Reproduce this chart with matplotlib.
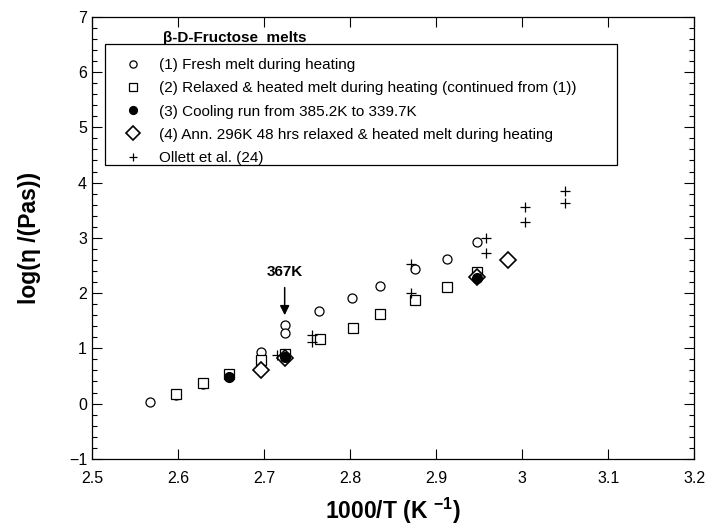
import matplotlib
matplotlib.use('Agg')
import matplotlib.pyplot as plt
from matplotlib.patches import Rectangle
from matplotlib.ticker import MultipleLocator

plt.rcParams['font.family'] = ['Liberation Sans', 'DejaVu Sans']
plt.rcParams['mathtext.fontset'] = 'custom'
plt.rcParams['mathtext.rm'] = 'Liberation Sans'
plt.rcParams['mathtext.bf'] = 'Liberation Sans:bold'

# (1) fresh melt during heating - open circles
x1 = [2.567, 2.598, 2.629, 2.659, 2.697, 2.697, 2.724, 2.724, 2.724, 2.764,
      2.802, 2.835, 2.876, 2.913, 2.947]
y1 = [0.02, 0.15, 0.35, 0.52, 0.94, 0.76, 1.43, 1.28, 0.86, 1.68,
      1.91, 2.12, 2.43, 2.62, 2.93]
# (2) relaxed & heated melt - open squares
x2 = [2.598, 2.629, 2.659, 2.697, 2.724, 2.765, 2.803, 2.835, 2.876, 2.913, 2.947]
y2 = [0.18, 0.38, 0.54, 0.78, 0.90, 1.17, 1.37, 1.62, 1.88, 2.11, 2.39]
# (3) cooling run - filled circles
x3 = [2.659, 2.724, 2.947]
y3 = [0.48, 0.85, 2.28]
# (4) annealed - diamonds
x4 = [2.697, 2.724, 2.947, 2.983]
y4 = [0.60, 0.82, 2.30, 2.60]
# Ollett et al. (24)
x5 = [2.715, 2.756, 2.756, 2.871, 2.871, 2.958, 2.958, 3.003, 3.003, 3.05, 3.05]
y5 = [0.88, 1.25, 1.12, 2.52, 2.00, 3.00, 2.73, 3.56, 3.29, 3.85, 3.63]

labels = ['(1) Fresh melt during heating',
          '(2) Relaxed & heated melt during heating (continued from (1))',
          '(3) Cooling run from 385.2K to 339.7K',
          '(4) Ann. 296K 48 hrs relaxed & heated melt during heating',
          'Ollett et al. (24)']

fig = plt.figure(figsize=(7.07, 5.25), dpi=100)
ax = fig.add_axes([0.130, 0.126, 0.852, 0.842])

ax.plot(x1, y1, 'o', mfc='white', mec='black', mew=0.9, ms=6.5, ls='none', label=labels[0])
ax.plot(x2, y2, 's', mfc='white', mec='black', mew=0.9, ms=6.5, ls='none', label=labels[1])
ax.plot(x4, y4, 'D', mfc='white', mec='black', mew=1.2, ms=8.5, ls='none', label=labels[3])
ax.plot(x3, y3, 'o', mfc='black', mec='black', ms=7, ls='none', label=labels[2])
ax.plot(x5, y5, '+', color='black', mew=0.9, ms=7, ls='none', label=labels[4])

ax.set_xlim(2.5, 3.2)
ax.set_ylim(-1, 7)
ax.yaxis.set_major_locator(MultipleLocator(1))
ax.yaxis.set_minor_locator(MultipleLocator(0.2))
ax.set_xticks([2.5, 2.6, 2.7, 2.8, 2.9, 3.0, 3.1, 3.2])
ax.set_xticklabels(['2.5', '2.6', '2.7', '2.8', '2.9', '3', '3.1', '3.2'])
ax.tick_params(which='both', direction='in', top=True, right=True, labelsize=11.5, width=0.8)
ax.tick_params(which='major', length=7)
ax.tick_params(which='minor', length=3.5)
ax.tick_params(axis='x', pad=9)
for s in ax.spines.values():
    s.set_linewidth(0.9)

ax.set_xlabel(r'1000/T (K $^{\mathbf{-1}}$)', fontsize=16.5, fontweight='bold', labelpad=7)
ax.set_ylabel('log(η /(Pas))', fontsize=16.5, fontweight='bold', labelpad=20)

# 367K marker
ax.annotate('', xy=(2.724, 1.55), xytext=(2.724, 2.15),
            arrowprops=dict(arrowstyle='-|>', color='black', lw=1.1, mutation_scale=14))
ax.text(2.724, 2.38, '367K', ha='center', va='center', fontsize=11, fontweight='bold')

# legend box
ax.add_patch(Rectangle((0.022, 0.665), 0.85, 0.274, transform=ax.transAxes,
                       fill=False, edgecolor='black', lw=0.9, zorder=3))
ax.text(0.118, 0.953, 'β-D-Fructose  melts', transform=ax.transAxes,
        fontsize=11, fontweight='bold', va='center', ha='left')
handles, labs = ax.get_legend_handles_labels()
order = [labs.index(l) for l in labels]
ax.legend([handles[i] for i in order], [labs[i] for i in order],
          loc='upper left', bbox_to_anchor=(0.045, 0.92), frameon=False,
          fontsize=11, handlelength=1.0, handletextpad=1.2, labelspacing=0.6,
          markerscale=0.8, borderaxespad=0)

fig.savefig('out.png', dpi=100)
